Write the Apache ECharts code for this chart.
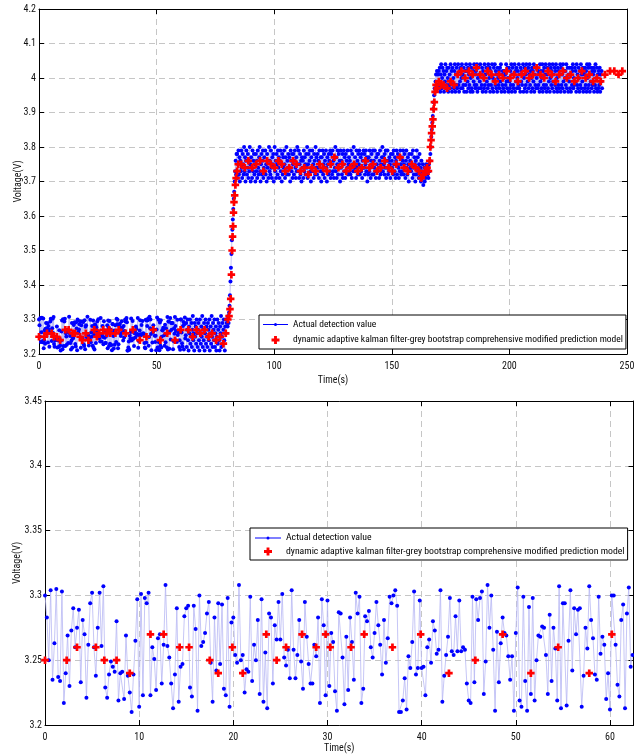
<!DOCTYPE html>
<html><head><meta charset="utf-8">
<script src="https://cdn.jsdelivr.net/npm/echarts@6/dist/echarts.min.js"></script>
<style>html,body{margin:0;padding:0;background:#fff}#c{width:634px;height:754px}</style>
</head><body><div id="c"></div>
<script>
// ---------------- data ----------------
const SAMPLE_DT = 0.2; // seconds between actual detection samples
const NAME_ACTUAL = 'Actual detection value';
const NAME_PRED = 'dynamic adaptive kalman filter-grey bootstrap comprehensive modified prediction model';

// actual detection values, 0 .. 62.4 s (shown in both panels)
const actual0to15 = [3.300,3.283,3.250,3.304,3.235,3.263,3.305,3.237,3.234,3.303,
3.217,3.240,3.269,3.230,3.273,3.290,3.260,3.275,3.289,3.233,3.281,
3.270,3.221,3.262,3.294,3.302,3.260,3.238,3.275,3.302,3.261,
3.307,3.229,3.221,3.239,3.249,3.245,3.241,3.280,3.219,3.240,
3.241,3.220,3.269,3.238,3.225,3.210,3.239,3.265,3.297,3.214,
3.301,3.223,3.298,3.294,3.302,3.223,3.260,3.251,3.227,3.267,
3.270,3.232,3.262,3.308,3.261,3.252,3.232,3.213,3.239,3.290,
3.218,3.245,3.247,3.284];
const actual15to30 = [3.290,3.292,3.229,3.222,3.292,3.274,3.211,3.300,3.261,3.264,
3.271,3.286,3.295,3.248,3.218,3.283,3.242,3.294,3.247,3.293,
3.228,3.223,3.298,3.214,3.279,3.283,3.254,3.248,3.308,3.250,
3.254,3.225,3.243,3.241,3.299,3.234,3.262,3.250,3.281,3.224,3.297,
3.218,3.256,3.213,3.286,3.283,3.232,3.277,3.266,3.295,3.266,
3.301,3.252,3.246,3.258,3.236,3.304,3.258,3.236,3.254,3.281,
3.249,3.228,3.295,3.268,3.247,3.232,3.232,3.262,3.253,3.283,
3.217,3.297,3.277,3.223,3.296];
const actual30to46 = [3.230,3.271,3.264,3.226,3.211,3.287,3.286,3.252,3.216,3.268,
3.227,3.283,3.264,3.235,3.302,3.286,3.299,3.217,3.228,3.284,
3.280,3.288,3.260,3.252,3.271,3.295,3.277,3.262,3.239,3.281,
3.248,3.267,3.299,3.294,3.300,3.304,3.292,3.210,3.210,3.219,
3.236,3.212,3.253,3.244,3.264,3.303,3.239,3.244,3.296,3.244,3.245,
3.223,3.260,3.266,3.248,3.280,3.273,3.255,3.258,3.304,3.218,
3.238,3.254,3.268,3.298,3.257,3.254,3.284,3.257,3.296,3.257,
3.260,3.258,3.232,3.219,3.217,3.299,3.233,3.297];
const actual46to62 = [3.281,3.298,3.303,3.224,3.249,3.308,3.275,3.300,3.258,3.211,
3.272,3.233,3.263,3.283,3.271,3.269,3.253,3.235,3.253,3.211,
3.271,3.306,3.219,3.214,3.299,3.234,3.211,3.291,3.224,3.298,
3.219,3.250,3.269,3.268,3.276,3.275,3.254,3.224,3.285,3.234,3.275,
3.259,3.219,3.307,3.213,3.294,3.294,3.215,3.265,3.304,3.242,
3.290,3.270,3.289,3.290,3.214,3.238,3.275,3.259,3.307,3.281,
3.267,3.239,3.235,3.299,3.255,3.268,3.262,3.220,3.240,3.212,3.300,
3.300,3.262,3.231,3.222,3.281,3.293,3.213,3.286,3.306,3.245,3.254];
// actual detection values, 62.6 .. 239.4 s (top panel only)
const actualLowTail = [3.29,3.22,3.27,3.30,3.24,3.21,3.28,3.26,3.30,3.23,
3.25,3.29,3.22,3.27,3.31,3.24,3.26,3.21,3.29,3.25,
3.28,3.23,3.30,3.26,3.22,3.27,3.29,3.24,3.21,3.30,
3.26,3.23,3.28,3.25,3.31,3.22,3.27,3.24,3.29,3.21,
3.26,3.30,3.23,3.28,3.25,3.22,3.29,3.27,3.24,3.30,
3.21,3.26,3.28,3.23,3.31,3.25,3.22,3.29,3.27,3.24,
3.30,3.22,3.26,3.28,3.21,3.25,3.30,3.23,3.27,3.29,
3.24,3.21,3.28,3.26,3.31,3.22,3.25,3.29,3.23,3.27,
3.30,3.24,3.21,3.28,3.26,3.30,3.29];
const actualRise1 = [3.30,3.28,3.31,3.29,3.32,3.34,3.37,3.41,3.45,3.49,3.53,3.56,3.59,3.62,3.65,3.67,3.70,3.73,3.76,3.72,3.78];
const actualMid = [3.78,3.71,3.75,3.79,3.72,3.77,3.70,3.76,3.73,3.79,
3.74,3.71,3.78,3.75,3.72,3.80,3.73,3.77,3.70,3.76,
3.79,3.72,3.74,3.78,3.71,3.76,3.73,3.80,3.75,3.70,
3.77,3.74,3.71,3.79,3.73,3.76,3.78,3.72,3.75,3.70,
3.78,3.73,3.76,3.71,3.79,3.74,3.72,3.77,3.80,3.73,
3.70,3.75,3.78,3.72,3.76,3.79,3.71,3.74,3.77,3.73,
3.79,3.72,3.75,3.70,3.78,3.74,3.76,3.71,3.80,3.73,
3.76,3.72,3.79,3.74,3.71,3.77,3.75,3.78,3.70,3.74,
3.80,3.73,3.76,3.71,3.78,3.75,3.72,3.79,3.74,3.77,
3.71,3.76,3.79,3.73,3.75,3.70,3.78,3.72,3.77,3.74,
3.79,3.75,3.71,3.77,3.73,3.80,3.72,3.76,3.74,3.78,
3.72,3.77,3.74,3.70,3.79,3.76,3.73,3.78,3.71,3.75,
3.78,3.72,3.76,3.79,3.74,3.71,3.77,3.73,3.80,3.75,
3.73,3.79,3.71,3.75,3.78,3.72,3.76,3.70,3.77,3.74,
3.76,3.71,3.79,3.73,3.77,3.75,3.72,3.78,3.74,3.80,
3.71,3.75,3.78,3.72,3.76,3.79,3.73,3.70,3.77,3.74,
3.79,3.73,3.75,3.71,3.78,3.76,3.72,3.80,3.74,3.77,
3.72,3.78,3.74,3.76,3.71,3.79,3.75,3.73,3.77,3.70,
3.77,3.73,3.79,3.72,3.75,3.78,3.71,3.76,3.74,3.79,
3.74,3.70,3.77,3.75,3.72,3.78,3.76,3.73,3.79,3.71,
3.78,3.75,3.72,3.79,3.73,3.76,3.71,3.77,3.74,3.80,
3.73,3.77,3.71,3.75,3.79,3.72,3.78,3.74,3.76,3.70,
3.79,3.74,3.76,3.72,3.78,3.71,3.75,3.79,3.73,3.77,
3.71,3.78,3.73,3.76,3.74,3.79,3.72,3.75,3.77,3.73,
3.76,3.72,3.79,3.74,3.71,3.78,3.75,3.73,3.80,3.74,
3.73,3.77,3.75,3.71,3.79,3.74,3.76,3.72,3.78,3.75,
3.79,3.72,3.74,3.77,3.73,3.78,3.71,3.76,3.74,3.79,
3.74,3.78,3.72,3.75,3.79,3.73,3.77,3.70,3.76,3.72,
3.77,3.73,3.79,3.74,3.71,3.76,3.78,3.72,3.75,3.79,
3.72,3.76,3.74,3.79,3.73,3.71,3.77,3.75,3.78,3.73,
3.78,3.74,3.71,3.76,3.79,3.72,3.75,3.73,3.77,3.80,
3.73,3.77,3.75,3.72,3.78,3.74,3.79,3.71,3.76,3.74,
3.79,3.72,3.76,3.73,3.77,3.75,3.71,3.78,3.74,3.76,
3.74,3.78,3.72,3.79,3.75,3.73,3.77,3.71,3.76,3.79,
3.72,3.75,3.78,3.74,3.71,3.77,3.73,3.79,3.75,3.72,
3.77,3.73,3.76,3.79,3.72,3.75,3.78,3.74,3.71,3.76,
3.79,3.74,3.72,3.77,3.75,3.70,3.78,3.73,3.76,3.74,
3.73,3.78,3.75,3.71,3.79,3.74,3.72,3.77,3.75,3.70,
3.76,3.72,3.79,3.74,3.77,3.73,3.71,3.75,3.78,3.72,
3.74,3.70,3.76,3.73,3.71,3.75,3.69,3.72,3.74,3.70,
3.73,3.71,3.75,3.72,3.74];
const actualRise2 = [3.72,3.74,3.71,3.75,3.73,3.76,3.78,3.80,3.83,3.85,3.87,3.89,3.91,3.93,3.95,3.97,3.96,3.99,4.01,3.97,4.02,3.98,4.01];
const actualHigh = [3.97,4.02,3.98,4.03,3.96,4.01,4.04,3.97,4.00,4.03,
3.98,4.02,3.96,4.01,3.99,4.04,3.97,4.02,3.98,4.03,
4.00,3.96,4.03,3.98,4.01,3.97,4.04,3.99,4.02,3.96,
4.03,3.98,4.00,3.97,4.02,4.04,3.96,4.01,3.98,4.03,
3.97,4.01,4.04,3.98,3.96,4.02,3.99,4.03,3.97,4.00,
4.04,3.97,4.01,3.98,4.03,3.96,4.00,4.02,3.98,4.04,
3.96,4.02,3.99,4.03,3.97,4.01,3.98,4.04,3.96,4.00,
4.03,3.97,4.01,3.96,4.02,3.99,4.04,3.98,4.01,3.97,
4.02,3.98,4.04,3.96,4.00,4.03,3.97,4.01,3.99,4.04,
3.97,4.01,3.98,4.03,3.96,4.02,4.00,3.97,4.04,3.98,
4.01,3.96,4.03,3.99,4.02,3.97,4.04,3.98,4.00,4.03,
3.96,4.02,3.98,4.01,4.04,3.97,4.00,3.96,4.03,3.99,
4.04,3.98,4.02,3.97,4.01,3.96,4.03,4.00,3.98,4.02,
3.97,4.03,3.99,4.04,3.96,4.01,3.98,4.02,3.97,4.00,
4.02,3.96,4.01,3.98,4.04,3.99,3.97,4.03,4.00,3.96,
4.03,3.99,3.97,4.02,3.98,4.04,3.96,4.01,4.03,3.98,
3.97,4.01,4.04,3.96,4.02,3.99,4.03,3.97,4.00,4.02,
3.98,4.04,3.97,4.01,3.96,4.03,3.99,4.02,3.98,4.01,
4.04,3.96,4.00,4.03,3.97,4.01,3.98,4.04,3.96,4.02,
3.99,4.03,3.97,4.01,4.04,3.98,4.02,3.96,4.00,4.03,
3.97,4.02,3.99,4.04,3.96,4.01,3.98,4.03,3.97,4.00,
4.03,3.97,4.02,3.98,4.01,3.96,4.04,3.99,4.02,3.97,
4.00,4.04,3.96,4.02,3.98,4.03,3.97,4.01,4.04,3.98,
3.96,4.01,4.03,3.97,4.02,3.99,4.04,3.96,4.00,4.03,
3.98,4.02,3.97,4.04,3.99,4.01,3.96,4.03,3.98,4.02,
4.04,3.97,4.00,3.96,4.03,3.98,4.02,3.97,4.01,4.04,
3.96,4.03,3.98,4.01,3.97,4.04,3.99,4.02,3.96,4.00,
4.02,3.98,4.04,3.97,4.00,4.03,3.96,4.01,3.99,4.03,
3.97,4.01,3.96,4.03,3.98,4.02,4.04,3.97,4.00,3.98,
4.03,3.99,4.02,3.96,4.04,3.98,4.01,3.97,4.03,4.00,
3.96,4.02,3.98,4.04,3.97,4.01,3.99,4.03,3.96,4.02,
4.01,3.97,4.03,3.98,4.02,3.96,4.04,4.00,3.97,4.03,
3.98,4.04,3.96,4.01,3.99,4.03,3.97,4.02,3.98,4.01,
4.03,3.96,4.02,3.98,4.04,3.97,4.00,4.03,3.96,4.01,
3.97,4.02,3.98,4.03,3.96,4.01,3.99,4.02,3.97];

// prediction model points (time, voltage)
const predZoomX = [0,2.3,3.4,5.4,6.3,7.6,9.0,11.2,12.6,14.3,15.3,17.5,18.4,19.9,21.0,23.5,24.6,25.6,27.3,28.8,29.8,30.3,32.5,33.9,36.9,39.9,42.9,45.7,48.6,51.6,54.5,57.8,60.2];
const predZoomV = [3.25,3.25,3.26,3.26,3.25,3.25,3.24,3.27,3.27,3.26,3.26,3.25,3.24,3.26,3.24,3.27,3.25,3.26,3.27,3.26,3.27,3.26,3.26,3.27,3.26,3.27,3.24,3.25,3.27,3.24,3.26,3.24,3.27];
const predRestX = [63.5,65.3,67.0,68.6,70.4,72.1,73.6,75.3,77.0,78.4,79.4,80.3,80.8,81.2,81.5,81.8,82.1,82.3,82.5,82.7,82.9,83.2,83.5,83.8,84.2,84.7,
86.0,87.5,89.0,90.6,92.3,94.0,95.4,97.0,98.6,100.2,101.8,103.2,104.7,106.4,108.0,109.5,111.2,112.8,114.5,116.0,117.6,119.3,120.8,122.4,124.0,125.6,127.3,129.0,130.6,132.3,134.0,135.5,137.2,138.8,140.5,142.0,143.7,145.3,147.0,148.6,150.2,151.9,153.5,155.2,156.8,158.5,160.1,161.6,162.6,163.4,164.3,165.0,165.6,
166.1,166.4,166.7,166.9,167.2,167.5,167.8,168.1,168.4,168.8,169.3,170.0,171.0,
172.0,173.5,175.0,176.5,178.0,179.6,181.2,182.8,184.4,186.0,187.6,189.2,190.8,192.4,194.0,195.6,197.2,198.8,200.4,202.0,203.6,205.2,206.8,208.4,210.0,211.6,213.2,214.8,216.4,218.0,219.6,221.2,222.8,224.4,226.0,227.6,229.2,230.8,232.4,234.0,235.6,237.2,238.8,240.6,242.8,244.6,246.4,248.0];
const predRestV = [3.27,3.25,3.27,3.26,3.27,3.25,3.26,3.24,3.25,3.23,3.26,3.30,3.31,3.33,3.36,3.43,3.50,3.54,3.57,3.61,3.64,3.66,3.69,3.71,3.73,3.75,
3.75,3.74,3.76,3.74,3.75,3.76,3.73,3.76,3.75,3.74,3.76,3.75,3.73,3.74,3.76,3.75,3.73,3.74,3.72,3.74,3.73,3.75,3.74,3.73,3.75,3.77,3.74,3.75,3.73,3.74,3.75,3.73,3.74,3.76,3.74,3.75,3.73,3.74,3.76,3.74,3.73,3.75,3.77,3.74,3.73,3.75,3.74,3.73,3.71,3.72,3.73,3.74,3.73,
3.76,3.80,3.82,3.84,3.86,3.88,3.91,3.93,3.96,3.98,3.97,3.99,3.98,
3.98,3.97,3.99,3.98,4.01,4.02,4.00,4.02,4.01,4.03,4.01,4.00,4.02,4.01,3.99,4.01,4.00,4.02,4.00,4.01,3.99,4.01,4.02,4.00,4.01,4.03,4.01,4.00,4.02,4.01,3.99,4.01,4.02,4.00,4.01,3.99,4.00,4.02,4.00,4.01,3.99,4.00,3.99,4.01,4.02,4.02,4.01,4.02];

// axis ticks
const topXTicks = {min:0, max:250, interval:50};
const topYTicks = {min:3.2, max:4.2, interval:0.1};
const zoomXTicks = {min:0, max:62.5, interval:10};
const zoomYTicks = {min:3.2, max:3.45, interval:0.05};

// ---------------- build ----------------
const zoomActual = [].concat(actual0to15, actual15to30, actual30to46, actual46to62);
const topActual = [].concat(zoomActual, actualLowTail, actualRise1, actualMid, actualRise2, actualHigh);
const toPairs = vals => vals.map((v, i) => [+(i * SAMPLE_DT).toFixed(2), v]);
const zipPairs = (xs, vs) => xs.map((x, i) => [x, vs[i]]);
const zoomPred = zipPairs(predZoomX, predZoomV);
const topPred = zoomPred.concat(zipPairs(predRestX, predRestV));

const FONT = "'Roboto Condensed','Liberation Sans',Arial,sans-serif";
const CROSS = 'path://M32,0H68V32H100V68H68V100H32V68H0V32H32Z';
const LINE_DOT = 'path://M0,3.5H25V4.5H0Z M11,4A1.5,1.5 0 1,1 14,4A1.5,1.5 0 1,1 11,4Z';
const GRID_DASH = {show:true, lineStyle:{color:'#c6c6c6', width:1, type:[6,4]}};

function axis(pos, ticks, extra) {
  return Object.assign({
    type:'value', position:pos, min:ticks.min, max:ticks.max, interval:ticks.interval,
    axisLine:{show:true, onZero:false, lineStyle:{color:'#000', width:1}},
    axisTick:{show:true, inside:true, length:5, lineStyle:{color:'#000'}},
    axisLabel:{color:'#111', fontSize:10, fontFamily:FONT, margin:3},
    splitLine:{show:false}, nameMoveOverlap:false,
    nameTextStyle:{color:'#111', fontSize:10, fontFamily:FONT}
  }, extra);
}
const xLabel = extra => Object.assign({color:'#111', fontSize:10, fontFamily:FONT, margin:7}, extra);

const legendCommon = {
  orient:'vertical', borderColor:'#000', borderWidth:1, borderRadius:0, backgroundColor:'#fff', selectedMode:false,
  data:[{name:NAME_ACTUAL, icon:LINE_DOT, itemStyle:{color:'#0000ff'}},
        {name:NAME_PRED, icon:CROSS, itemStyle:{color:'#ff0000'}}]
};

const chart = echarts.init(document.getElementById('c'), null, {renderer:'canvas'});
const option = {
  animation:false,
  backgroundColor:'#fff',
  grid:[
    {left:39, top:9, width:588, height:345, outerBoundsMode:'none', containLabel:false},
    {left:45, top:401, width:588.5, height:324, outerBoundsMode:'none', containLabel:false}
  ],
  xAxis:[
    axis('bottom', topXTicks, {gridIndex:0, splitLine:GRID_DASH, axisLabel:xLabel({}), name:'Time(s)', nameLocation:'middle', nameGap:21}),
    axis('top', topXTicks, {gridIndex:0, axisLabel:{show:false}}),
    axis('bottom', zoomXTicks, {gridIndex:1, splitLine:GRID_DASH, axisLabel:xLabel({showMaxLabel:false}), name:'Time(s)', nameLocation:'middle', nameGap:18}),
    axis('top', zoomXTicks, {gridIndex:1, axisLabel:{show:false}})
  ],
  yAxis:[
    axis('left', topYTicks, {gridIndex:0, splitLine:GRID_DASH, name:'Voltage(V)', nameLocation:'middle', nameGap:16, nameRotate:90}),
    axis('right', topYTicks, {gridIndex:0, axisLabel:{show:false}}),
    axis('left', zoomYTicks, {gridIndex:1, splitLine:GRID_DASH, name:'Voltage(V)', nameLocation:'middle', nameGap:23, nameRotate:90}),
    axis('right', zoomYTicks, {gridIndex:1, axisLabel:{show:false}})
  ],
  legend:[
    Object.assign({}, legendCommon, {left:259, top:315, itemWidth:25, itemHeight:8, itemGap:5.5, padding:[4.5,3,4,4],
      textStyle:{fontSize:9.5, fontFamily:FONT, color:'#000'}}),
    Object.assign({}, legendCommon, {left:250, top:528, itemWidth:26, itemHeight:8, itemGap:3.5, padding:[5,3,3.5,5],
      textStyle:{fontSize:9.75, fontFamily:FONT, color:'#000'}})
  ],
  series:[
    {name:NAME_ACTUAL, type:'line', xAxisIndex:0, yAxisIndex:0, data:toPairs(topActual),
     symbol:'circle', symbolSize:4, showAllSymbol:true, silent:true,
     itemStyle:{color:'#0000ff', opacity:1}, lineStyle:{color:'#b8b8f4', width:0.8}, z:2},
    {name:NAME_PRED, type:'scatter', xAxisIndex:0, yAxisIndex:0, data:topPred,
     symbol:CROSS, symbolSize:[7.5,7.5], silent:true, itemStyle:{color:'#ff0000', opacity:1}, z:3},
    {name:NAME_ACTUAL, type:'line', xAxisIndex:2, yAxisIndex:2, data:toPairs(zoomActual),
     symbol:'circle', symbolSize:4, showAllSymbol:true, silent:true,
     itemStyle:{color:'#0000ff', opacity:1}, lineStyle:{color:'#b8b8f4', width:0.8}, z:2},
    {name:NAME_PRED, type:'scatter', xAxisIndex:2, yAxisIndex:2, data:zoomPred,
     symbol:CROSS, symbolSize:[7.5,7.5], silent:true, itemStyle:{color:'#ff0000', opacity:1}, z:3}
  ]
};
chart.setOption(option);
</script>
</body></html>
